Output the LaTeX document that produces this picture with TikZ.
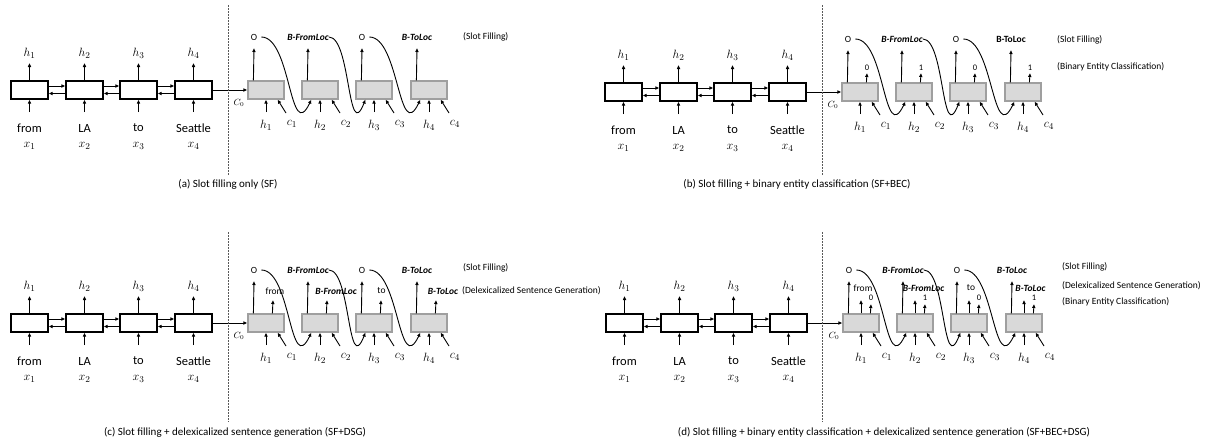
\documentclass[tikz,border=0pt]{standalone}
\usepackage{fontspec}
\setmainfont{Carlito}
\usetikzlibrary{arrows.meta}
\tikzset{
  arr/.style={-{Latex[length=4pt,width=3.8pt]}, line width=0.9pt},
  encbox/.style={draw, line width=1.2pt, minimum width=37pt, minimum height=18pt, inner sep=0pt},
  decbox/.style={draw=gray!75, fill=gray!30, line width=1.2pt, minimum width=36pt, minimum height=18pt, inner sep=0pt},
  word/.style={font=\fontsize{12.5}{14}\selectfont, inner sep=0pt},
  mathlab/.style={font=\fontsize{13}{15}\selectfont, inner sep=0pt},
  tag/.style={font=\fontsize{9.5}{11}\selectfont, inner sep=0pt},
  tagb/.style={font=\fontsize{9.5}{11}\selectfont\bfseries\itshape, inner sep=0pt},
  tagbu/.style={font=\fontsize{9.5}{11}\selectfont\bfseries, inner sep=0pt},
  num/.style={font=\fontsize{8.5}{10}\selectfont, inner sep=0pt},
  side/.style={font=\fontsize{9.5}{11}\selectfont, inner sep=0pt, anchor=west},
  caption/.style={font=\fontsize{11}{13}\selectfont, inner sep=0pt},
  sep/.style={gray!70!black, line width=1pt, dash pattern=on 1.5pt off 1.5pt},
}
\newcommand\drawpanel[4]{%
\begin{scope}[shift={(#2,#3)}]
  \foreach \i/\w/\cx in {1/from/29.5,2/LA/84.5,3/to/138.5,4/Seattle/193.5}{
    \node[encbox] (#1e\i) at (\cx,90) {};
    \node[mathlab] (#1eh\i) at (\cx,53) {$h_{\i}$};
    \coordinate (#1et\i) at (\cx,63);
    \coordinate (#1eb\i) at (\cx,112);
    \node[word] (#1ew\i) at (\cx,128) {\w};
    \node[mathlab] (#1ex\i) at (\cx,146) {$x_{\i}$};
    \draw[arr] (#1e\i.north) -- (#1et\i);
    \draw[arr] (#1eb\i) -- (#1e\i.south);
  }
  \foreach \i [evaluate=\i as \j using int(\i+1)] in {1,2,3}{
    \draw[arr] ([yshift=4pt]#1e\i.east) -- ([yshift=4pt]#1e\j.west);
    \draw[arr] ([yshift=-3.5pt]#1e\j.west) -- ([yshift=-3.5pt]#1e\i.east);
  }
  \foreach \i/\cx in {1/266,2/320,3/374,4/429}{
    \node[decbox] (#1d\i) at (\cx,90) {};
    \coordinate (#1do\i) at (\cx-12,48);
    \coordinate (#1dh\i) at (\cx,112);
    \coordinate (#1dc\i) at (\cx+20,113);
    \node[mathlab] (#1h\i) at (\cx,125) {$h_{\i}$};
    \node[mathlab] (#1c\i) at (\cx+26,124) {$c_{\i}$};
    \draw[arr] ([xshift=6pt]#1d\i.north west) -- (#1do\i);
    \draw[arr] (#1dh\i) -- (#1d\i.south);
    \draw[arr] (#1dc\i) -- ([xshift=-7pt]#1d\i.south east);
  }
  \draw[arr] (#1e4.east) -- (#1d1.west);
  \node[font=\fontsize{9}{10}\selectfont, inner sep=0pt] (#1cz) at (239,103) {$C_0$};
  \node[tag] (#1t1) at (254,37) {O};
  \node[tagb] (#1t2) at (308,37) {B-FromLoc};
  \node[tag] (#1t3) at (362,37) {O};
  \node[#4] (#1t4) at (417,37) {B-ToLoc};
  \draw[arr] ([xshift=4pt]#1t1.east) .. controls +(30,0) and +(-22,46) .. ([xshift=10pt]#1d2.south west);
  \draw[arr] (#1t2.east) .. controls +(22,0) and +(-18,46) .. ([xshift=10pt]#1d3.south west);
  \draw[arr] ([xshift=4pt]#1t3.east) .. controls +(30,0) and +(-22,46) .. ([xshift=10pt]#1d4.south west);
\end{scope}}
\begin{document}
\begin{tikzpicture}[x=1pt,y=-1pt]
\useasboundingbox (0,0) rectangle (1220,437);
% panels
\drawpanel{a}{0}{0}{tagb}
\drawpanel{b}{594}{2}{tagbu}
\drawpanel{c}{0}{233}{tagb}
\drawpanel{d}{595}{233}{tagb}
% separators
\coordinate (sa1) at (228,5);   \coordinate (sa2) at (228,175);
\coordinate (sb1) at (822,5);   \coordinate (sb2) at (822,175);
\coordinate (sc1) at (228,232); \coordinate (sc2) at (228,422);
\coordinate (sd1) at (822,232); \coordinate (sd2) at (822,422);
\draw[sep] (sa1) -- (sa2);
\draw[sep] (sb1) -- (sb2);
\draw[sep] (sc1) -- (sc2);
\draw[sep] (sd1) -- (sd2);
% panel b extras
\begin{scope}[shift={(594,2)}]
  \foreach \i/\v/\cx in {1/0/266,2/1/320,3/0/374,4/1/429}{
    \coordinate (bn\i) at (\cx+7,71);
    \node[num] (bnl\i) at (\cx+7,66) {\v};
    \draw[arr] ([xshift=25pt]bd\i.north west) -- (bn\i);
  }
\end{scope}
% panel c extras
\begin{scope}[shift={(0,233)}]
  \foreach \i/\w/\dx/\st/\cx in {1/from/9/tag/266,2/B-FromLoc/16/tagb/320,3/to/7.5/tag/374,4/B-ToLoc/14/tagb/429}{
    \coordinate (cw\i) at (\cx+7,67);
    \node[\st] (cwl\i) at (\cx+\dx,58) {\w};
    \draw[arr] ([xshift=25pt]cd\i.north west) -- (cw\i);
  }
\end{scope}
% panel d extras
\begin{scope}[shift={(595,233)}]
  \foreach \i/\w/\dx/\st/\v/\cx in {1/from/2/tag/0/266,2/B-FromLoc/8.5/tagb/1/320,3/to/2/tag/0/374,4/B-ToLoc/6.5/tagb/1/429}{
    \coordinate (dw\i) at (\cx,67);
    \node[\st] (dwl\i) at (\cx+\dx,55) {\w};
    \draw[arr] (dd\i.north) -- (dw\i);
    \coordinate (dn\i) at (\cx+10,71);
    \node[num] (dnl\i) at (\cx+10,65) {\v};
    \draw[arr] ([xshift=28pt]dd\i.north west) -- (dn\i);
  }
\end{scope}
% side labels
\node[side] (la1) at (463,37) {(Slot Filling)};
\node[side] (lb1) at (1057,40) {(Slot Filling)};
\node[side] (lb2) at (1057,67) {(Binary Entity Classification)};
\node[side] (lc1) at (463,268) {(Slot Filling)};
\node[side] (lc2) at (462,291) {(Delexicalized Sentence Generation)};
\node[side] (ld1) at (1062,267) {(Slot Filling)};
\node[side] (ld2) at (1062,286) {(Delexicalized Sentence Generation)};
\node[side] (ld3) at (1062,302) {(Binary Entity Classification)};
% captions
\node[caption] (cpa) at (228,184) {(a) Slot filling only (SF)};
\node[caption] (cpb) at (797,184) {(b) Slot filling + binary entity classification (SF+BEC)};
\node[caption] (cpc) at (235,432) {(c) Slot filling + delexicalized sentence generation (SF+DSG)};
\node[caption] (cpd) at (884,432) {(d) Slot filling + binary entity classification + delexicalized sentence generation (SF+BEC+DSG)};
\end{tikzpicture}
\end{document}
